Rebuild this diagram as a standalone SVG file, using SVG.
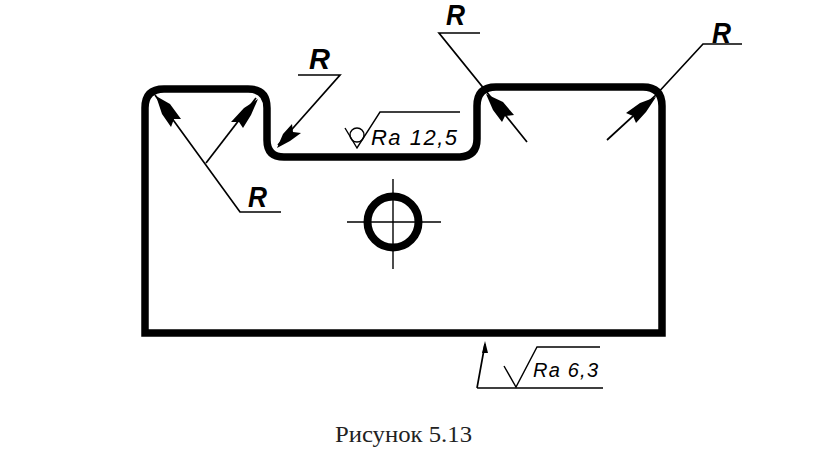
<svg xmlns="http://www.w3.org/2000/svg" width="819" height="463" viewBox="0 0 819 463">
<style>
.o{fill:none;stroke:#000;stroke-width:7.5;stroke-linejoin:miter}
.t{fill:none;stroke:#000;stroke-width:1.7}
.s{fill:none;stroke:#000;stroke-width:1.4}
.a{fill:#000;stroke:none}
.r{font-family:"Liberation Sans",Arial,sans-serif;font-style:italic;font-weight:bold;font-size:29px;fill:#000}
.ra{font-family:"Liberation Sans",Arial,sans-serif;font-style:italic;fill:#000}
.c{font-family:"Liberation Serif","Times New Roman",serif;font-size:24px;fill:#222}
</style>
<rect width="819" height="463" fill="#fff"/>
<g id="part">
<path class="o" d="M145 333V108Q145 89 164 89H248Q267 89 267 108V140Q267 157 284 157H460Q477 156 477 139V106Q477 87 496 87H643Q662 87 662 106V333Z"/>
</g>
<g id="hole">
<circle cx="393" cy="222" r="25.5" fill="none" stroke="#000" stroke-width="8"/>
<path class="s" d="M347 222H441"/>
<path class="s" stroke-width="2" d="M393 179V269"/>
</g>
<g id="connectors">
<path class="t" d="M155 95L240 212H281"/>
<path class="a" d="M156 96L170 104 181 119 174 119 171 127 162 114Z"/>
<path class="t" d="M206 163L256 98"/>
<path class="a" d="M258 99L251 115 243 128 239 122 231 122 244 108Z"/>
<path class="t" d="M298 75H340L278 145"/>
<path class="a" d="M277 148L283 134 292 124 293 132 301 133 290 141Z"/>
<path class="t" d="M480 33H439L527 142"/>
<path class="a" d="M486 94L503 102 514 115 505 116 502 122 493 110Z"/>
<path class="t" d="M607 140L655 96L703 44H742"/>
<path class="a" d="M656 97L640 103 626 113 633 116 636 123 646 112Z"/>
<path class="t" d="M477 388L485 344M477 388H603"/>
<path class="a" d="M485 341L488 353H482Z"/>
</g>
<g id="symbols">
<path class="s" d="M345 128L357 148 380 112H460"/>
<circle class="s" cx="357" cy="135" r="7"/>
<path class="s" d="M504 366L516 387 537 347H600"/>
</g>
<g id="labels">
<text class="r" x="309" y="69" textLength="21" lengthAdjust="spacingAndGlyphs">R</text>
<text class="r" x="248" y="207" textLength="19" lengthAdjust="spacingAndGlyphs">R</text>
<text class="r" x="446" y="25" textLength="19" lengthAdjust="spacingAndGlyphs">R</text>
<text class="r" x="712" y="43" textLength="19" lengthAdjust="spacingAndGlyphs">R</text>
<text class="ra" font-size="22" x="371" y="145" textLength="86">Ra 12,5</text>
<text class="ra" font-size="20" x="533" y="377" textLength="65">Ra 6,3</text>
<text class="c" x="335" y="442" textLength="137" lengthAdjust="spacingAndGlyphs">Рисунок 5.13</text>
</g>
</svg>
